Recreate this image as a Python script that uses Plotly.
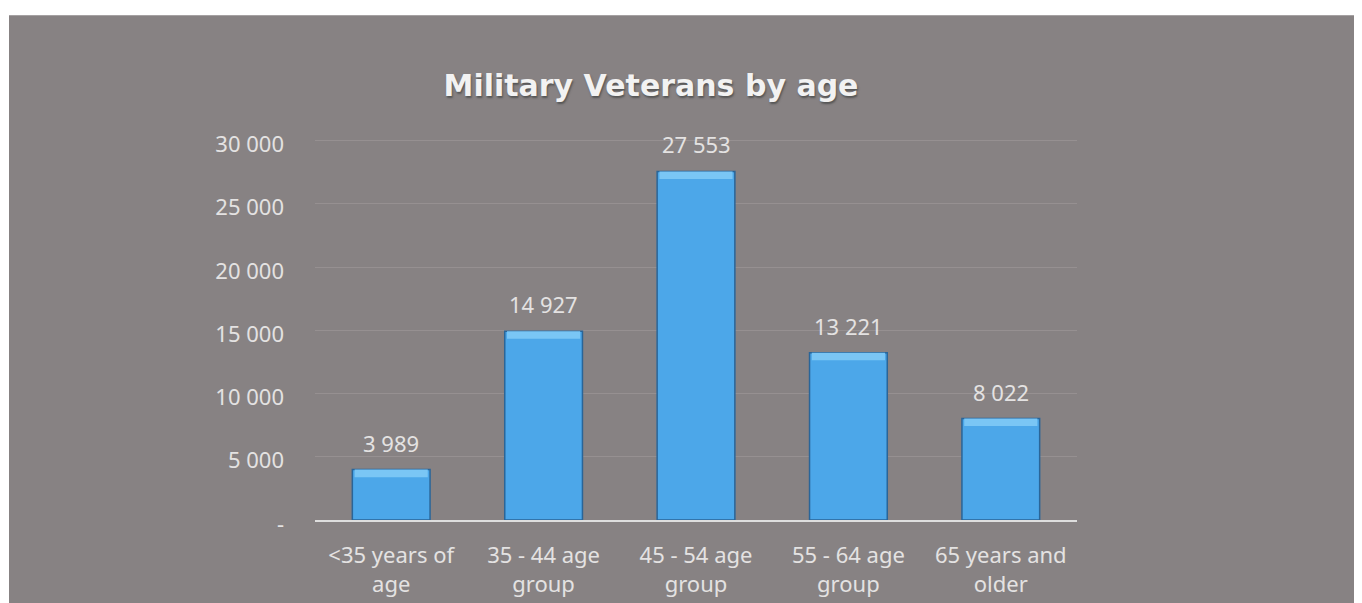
import plotly.graph_objects as go

categories = ["<35 years of<br>age", "35 - 44 age<br>group", "45 - 54 age<br>group",
              "55 - 64 age<br>group", "65 years and<br>older"]
values = [3989, 14927, 27553, 13221, 8022]
tick_vals = [0, 5000, 10000, 15000, 20000, 25000, 30000]
tick_text = ["-", "5 000", "10 000", "15 000", "20 000", "25 000", "30 000"]

labels = [f"{v:,}".replace(",", " ") for v in values]

GRAY = "#878283"
TXT = "#e4e2e2"
FONT = "Noto Sans"
FS = 22

YMAX = 30200
# page has an 8px body margin: figure coordinates = page coordinates - 8
PB = 520 - 8
PH = (520 - 141) * YMAX / 30000
MT = PB - PH
ML, PR = 315 - 8, 1077 - 8
W, H = 1362, 603
PW = PR - ML

bevel = 600

fig = go.Figure()
fig.add_trace(go.Bar(
    x=categories, y=values,
    marker=dict(color="#4ca7e9", line=dict(color="#2a6598", width=1.5)),
    cliponaxis=False, width=0.51, hoverinfo="x+y",
))
fig.add_trace(go.Bar(
    x=categories, y=[bevel] * len(values), base=[v - bevel for v in values],
    marker=dict(color="#7ac6f5", line=dict(width=0)),
    width=0.48, hoverinfo="skip",
))

annotations = [
    dict(x=c, y=v, text=t, xref="x", yref="y", showarrow=False,
         yanchor="bottom", yshift=10,
         font=dict(family=FONT, size=FS, color=TXT))
    for c, v, t in zip(categories, values, labels)
]

fig.update_layout(
    width=W, height=H,
    margin=dict(l=ML, r=W - PR, t=MT, b=H - PB),
    paper_bgcolor=GRAY, plot_bgcolor="rgba(0,0,0,0)",
    showlegend=False, barmode="overlay",
    annotations=annotations,
    title=dict(text="<b>Military Veterans by age</b>", x=(651 - 8 - ML) / PW,
               xref="paper", xanchor="center",
               y=1 - (85 - 8) / H, yanchor="middle",
               font=dict(family="DejaVu Sans", size=30, color="#f2f2f2",
                         shadow="1px 2px 2px #555")),
    xaxis=dict(showgrid=False, showline=True, linecolor="#dedede", linewidth=2,
               ticks="", ticklabelstandoff=15,
               tickfont=dict(family=FONT, size=FS, color=TXT),
               fixedrange=True),
    yaxis=dict(range=[0, YMAX], tickvals=tick_vals, ticktext=tick_text,
               showgrid=True, gridcolor="#969091", gridwidth=1, zeroline=False,
               ticks="", ticklabelstandoff=30, ticklabelshift=4,
               tickfont=dict(family=FONT, size=FS, color=TXT)),
    shapes=[
        dict(type="rect", xref="paper", yref="paper", x0=-1, x1=2,
             y0=(PB - 8) / PH, y1=3, fillcolor="white", line_width=0, layer="above"),
        dict(type="rect", xref="paper", yref="paper", x0=-1, x1=(1 - ML) / PW,
             y0=-1, y1=3, fillcolor="white", line_width=0, layer="above"),
    ],
)

fig.write_html("out.html")
